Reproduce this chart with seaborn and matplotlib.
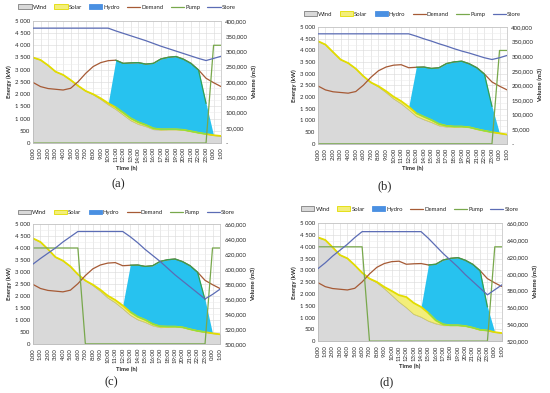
import numpy as np
import pandas as pd
import matplotlib
matplotlib.use("Agg")
import matplotlib.pyplot as plt
import seaborn as sns
from matplotlib.patches import Patch
from matplotlib.lines import Line2D
from matplotlib.ticker import FuncFormatter, MultipleLocator

sns.set_theme(style="white")
plt.rcParams['font.family'] = ['Lato', 'DejaVu Sans']

# ---------------- data ----------------
hours = list(range(26))
time_labels = ["0:00", "1:00", "2:00", "3:00", "4:00", "5:00", "6:00", "7:00", "8:00",
               "9:00", "10:00", "11:00", "12:00", "13:00", "14:00", "15:00", "16:00",
               "17:00", "18:00", "19:00", "20:00", "21:00", "22:00", "23:00", "0:00", "1:00"]

demand = [2480, 2310, 2230, 2200, 2170, 2240, 2510, 2850, 3130, 3290, 3370, 3390, 3260,
          3280, 3290, 3230, 3260, 3440, 3510, 3540, 3430, 3260, 2990, 2650, 2470, 2310]

# (a)
wind_a = [3500, 3400, 3180, 2920, 2790, 2580, 2340, 2130, 1980, 1790, 1570, 1380, 1150,
          920, 770, 680, 560, 540, 560, 560, 540, 480, 420, 370, 320, 290]
solar_a = [0, 0, 0, 0, 0, 0, 0, 0, 20, 40, 60, 80, 90, 90, 80, 60, 40, 20, 0, 0, 0, 0, 0, 0, 0, 0]
hydro_a = [0, 0, 0, 0, 0, 0, 0, 0, 0, 0, 0, 1930, 2020, 2270, 2440, 2490, 2660, 2880, 2950,
           2980, 2890, 2780, 2570, 1250, 0, 0]
pump_a = [0, 0, 0, 0, 0, 0, 0, 0, 0, 0, 0, 0, 0, 0, 0, 0, 0, 0, 0, 0, 0, 0, 0, 0, 4000, 4000]
store_a = [376000, 376000, 376000, 376000, 376000, 376000, 376000, 376000, 376000, 376000,
           376000, 367000, 359000, 351000, 343000, 335000, 326000, 317000, 309000, 301000,
           293000, 285000, 277000, 270000, 277000, 284000]

# (b)
wind_b = [4400, 4250, 3930, 3610, 3460, 3220, 2900, 2630, 2440, 2200, 1930, 1720, 1460,
          1180, 1040, 920, 780, 730, 720, 740, 710, 630, 560, 500, 450, 400]
solar_b = [0, 0, 0, 0, 0, 0, 0, 0, 30, 60, 90, 110, 130, 130, 120, 100, 70, 40, 20, 0, 0, 0, 0, 0, 0, 0]
hydro_b = [0, 0, 0, 0, 0, 0, 0, 0, 0, 0, 0, 0, 0, 1970, 2130, 2210, 2410, 2670, 2770, 2800,
           2720, 2630, 2430, 1100, 0, 0]
pump_b = [0, 0, 0, 0, 0, 0, 0, 0, 0, 0, 0, 0, 0, 0, 0, 0, 0, 0, 0, 0, 0, 0, 0, 0, 4000, 4000]
store_b = [377000, 377000, 377000, 377000, 377000, 377000, 377000, 377000, 377000, 377000,
           377000, 377000, 377000, 369000, 360000, 352000, 343000, 335000, 326000, 318000,
           311000, 303000, 295000, 289000, 295000, 303000]

# (c)
wind_c = [4400, 4250, 3950, 3620, 3470, 3230, 2900, 2640, 2440, 2200, 1920, 1720, 1470,
          1200, 1010, 900, 760, 690, 700, 720, 690, 610, 540, 490, 440, 400]
solar_c = [0, 0, 0, 0, 0, 0, 0, 0, 30, 60, 90, 110, 130, 130, 120, 100, 70, 40, 20, 0, 0, 0, 0, 0, 0, 0]
hydro_c = [0, 0, 0, 0, 0, 0, 0, 0, 0, 0, 0, 0, 0, 1950, 2160, 2230, 2430, 2710, 2790, 2820,
           2740, 2650, 2450, 1350, 0, 0]
pump_c = [4000, 4000, 4000, 4000, 4000, 4000, 4000, 0, 0, 0, 0, 0, 0, 0, 0, 0, 0, 0, 0, 0,
          0, 0, 0, 0, 4000, 4000]
store_c = [606500, 614000, 621000, 628000, 636000, 643000, 650000, 650000, 650000, 650000,
           650000, 650000, 650000, 643000, 635000, 626000, 618000, 610000, 601000, 592000,
           584000, 576000, 568000, 560000, 566000, 573000]

# (d)
wind_d = [4400, 4290, 3980, 3650, 3510, 3220, 2900, 2650, 2480, 2230, 1950, 1660, 1420,
          1140, 1020, 850, 740, 670, 670, 670, 640, 570, 480, 450, 380, 340]
solar_d = [0, 0, 0, 0, 0, 0, 0, 0, 30, 70, 180, 290, 450, 480, 430, 340, 140, 40, 0, 0, 0, 0, 0, 0, 0, 0]
hydro_d = [0, 0, 0, 0, 0, 0, 0, 0, 0, 0, 0, 0, 0, 0, 0, 2040, 2380, 2730, 2840, 2870, 2790,
           2690, 2510, 1000, 0, 0]
pump_d = [4000, 4000, 4000, 4000, 4000, 4000, 4000, 0, 0, 0, 0, 0, 0, 0, 0, 0, 0, 0, 0, 0,
          0, 0, 0, 0, 4000, 4000]
store_d = [606000, 613000, 621000, 628000, 635000, 643000, 650000, 650000, 650000, 650000,
           650000, 650000, 650000, 650000, 650000, 642000, 633000, 624000, 616000, 608000,
           599000, 591000, 583000, 575000, 581000, 587000]

# ---------------- style ----------------
C_WIND = '#d9d9d9'
C_WIND_E = '#a6a6a6'
C_SOLAR = '#f3ee7a'
C_SOLAR_E = '#e2dc00'
C_HYDRO = '#27c2ef'
C_HYDRO_L = '#4a90e2'
C_HTOP = '#35a050'
C_DEM = '#a65a35'
C_PUMP = '#78a84c'
C_STORE = '#5b6cb5'
FS = 4.3

fig = plt.figure(figsize=(5.5, 3.93), dpi=100)


def kfmt(v, p):
    return f"{int(v):,}".replace(",", " ")


def vfmt(v, p):
    if abs(v) < 1:
        return "-"
    return f"{int(v):,}"


def panel(rect, wind, solar, hydro, pump, store, vlim, vstep, leg_y, caption, cap_xy):
    ax = fig.add_axes(rect)
    ax.set_axisbelow(True)
    df = pd.DataFrame({"h": hours, "wind": wind, "solar": solar, "hydro": hydro,
                       "demand": demand, "pump": pump, "store": store})
    polys = ax.stackplot(df["h"], df["wind"], df["solar"], df["hydro"],
                         colors=[C_WIND, C_SOLAR, C_HYDRO], linewidth=0)
    polys[0].set_edgecolor(C_WIND_E)
    polys[0].set_linewidth(0.4)
    ren_top = df["wind"] + df["solar"]
    sns.lineplot(x=df["h"], y=df["wind"], ax=ax, color='#c9c560', lw=0.5, legend=False)
    sns.lineplot(x=df["h"], y=ren_top, ax=ax, color=C_SOLAR_E, lw=1.3, legend=False)
    sns.lineplot(data=df, x="h", y="demand", ax=ax, color=C_DEM, lw=0.9, legend=False)
    top = (ren_top + df["hydro"]).where(df["hydro"] > 0)
    low = ren_top.where(df["hydro"] > 0)
    ax.plot(df["h"], top, color=C_HTOP, lw=0.9)
    ax.plot(df["h"], low, color='#86e04a', lw=0.9)
    sns.lineplot(data=df, x="h", y="pump", ax=ax, color=C_PUMP, lw=0.9, legend=False)

    ax.set_xlim(0, 25)
    ax.set_ylim(0, 5000)
    ax.yaxis.set_major_locator(MultipleLocator(500))
    ax.yaxis.set_minor_locator(MultipleLocator(250))
    ax.yaxis.set_major_formatter(FuncFormatter(kfmt))
    ax.set_xticks(hours)
    ax.set_xticklabels(time_labels, rotation=90, fontsize=FS)
    ax.tick_params(axis='y', which='both', labelsize=FS, length=0, pad=2)
    ax.tick_params(axis='x', length=2, width=0.4, pad=1, color='#bfbfbf')
    ax.grid(True, which='major', color='#dcdcdc', lw=0.45)
    ax.grid(True, which='minor', axis='y', color='#ececec', lw=0.4)
    ax.set_ylabel("Energy (kW)", fontsize=FS, fontweight='bold', labelpad=2)
    ax.set_xlabel("Time (h)", fontsize=FS, fontweight='bold', labelpad=2)
    for s in ax.spines.values():
        s.set_color('#bfbfbf')
        s.set_linewidth(0.5)

    ax2 = ax.twinx()
    sns.lineplot(data=df, x="h", y="store", ax=ax2, color=C_STORE, lw=0.9, legend=False)
    ax2.set_ylim(*vlim)
    ax2.yaxis.set_major_locator(MultipleLocator(vstep))
    ax2.yaxis.set_major_formatter(FuncFormatter(vfmt))
    ax2.tick_params(axis='y', labelsize=FS, length=0, pad=3)
    ax2.set_ylabel("Volume (m3)", fontsize=FS, fontweight='bold', labelpad=3)
    ax2.grid(False)
    for s in ax2.spines.values():
        s.set_visible(False)

    handles = [Patch(facecolor=C_WIND, edgecolor='#7f7f7f', lw=0.6),
               Patch(facecolor=C_SOLAR, edgecolor=C_SOLAR_E, lw=0.6),
               Patch(facecolor=C_HYDRO_L, edgecolor=C_HYDRO_L, lw=0.6),
               Line2D([], [], color=C_DEM, lw=0.9),
               Line2D([], [], color=C_PUMP, lw=0.9),
               Line2D([], [], color=C_STORE, lw=0.9)]
    names = ["Wind", "Solar", "Hydro", "Demand", "Pump", "Store"]
    fig.legend(handles, names, loc='center', ncol=6, frameon=False, fontsize=FS,
               bbox_to_anchor=(rect[0] + rect[2] / 2, leg_y), handlelength=2.2,
               handleheight=0.8, columnspacing=1.2, handletextpad=0.2)
    fig.text(cap_xy[0], cap_xy[1], caption, fontsize=9, family='Liberation Serif',
             ha='center', va='center')


panel([0.060, 0.636, 0.342, 0.311], wind_a, solar_a, hydro_a, pump_a, store_a,
      (0, 400000), 50000, 0.982, "(a)", (0.2145, 0.532))
panel([0.578, 0.634, 0.344, 0.297], wind_b, solar_b, hydro_b, pump_b, store_b,
      (0, 400000), 50000, 0.964, "(b)", (0.70, 0.527))
panel([0.060, 0.125, 0.340, 0.305], wind_c, solar_c, hydro_c, pump_c, store_c,
      (500000, 660000), 20000, 0.460, "(c)", (0.203, 0.028))
panel([0.578, 0.132, 0.335, 0.300], wind_d, solar_d, hydro_d, pump_d, store_d,
      (520000, 660000), 20000, 0.468, "(d)", (0.703, 0.028))

fig.savefig("out.png", dpi=100, facecolor='white')
